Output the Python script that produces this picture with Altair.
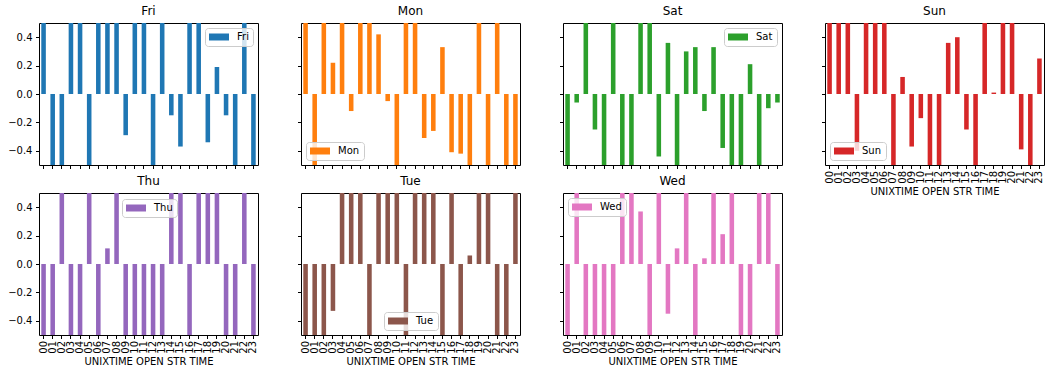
import altair as alt
import pandas as pd

hours = [f"{h:02d}" for h in range(24)]
days = ["Fri", "Mon", "Sat", "Sun", "Thu", "Tue", "Wed"]
colors = ["#1f77b4", "#ff7f0e", "#2ca02c", "#d62728", "#9467bd", "#8c564b", "#e377c2"]

# values beyond +/-0.5 are clipped in the reference; shown as +/-1
fri = [1, -1, -1, 1, 1, -1, 1, 1, 1, -0.29, 1, 1, -1, 1, -0.15, -0.37, 1, 1, -0.34, 0.19, -0.15, -1, 1, -1]
mon = [1, -1, 1, 0.22, 1, -0.12, 1, 1, 0.42, -0.05, -1, 1, 1, -0.31, -0.26, 0.33, -0.41, -0.42, -1, 1, -1, 1, -1, -1]
sat = [-1, -0.06, 1, -0.25, -1, 1, -1, -1, 1, 1, -0.44, 0.36, -1, 0.30, 0.33, -0.12, 0.33, -0.38, -1, -1, 0.21, -1, -0.10, -0.06]
sun = [1, 1, 1, -0.40, 1, 1, 1, -1, 0.12, -0.37, -0.17, -1, -1, 0.36, 0.40, -0.25, -1, 1, 0.01, 1, 1, -0.39, -1, 0.25]
thu = [-1, -1, 1, -1, -1, 1, -1, 0.11, 1, -1, -1, -1, -1, -1, 1, 1, -1, 1, 1, 1, -1, -1, 1, -1]
tue = [-1, -1, -1, -0.33, 1, 1, 1, -1, 1, 1, 1, -1, 1, 1, 1, -1, 1, -1, 0.06, 1, 1, -1, -1, 1]
wed = [-1, 1, -1, -1, -1, -1, 1, 1, 0.37, -1, 1, -0.35, 0.11, 1, -1, 0.04, 1, 0.21, 1, -1, -1, 1, 1, -1]
series = [fri, mon, sat, sun, thu, tue, wed]

W, H = 219, 142
FONT = "DejaVu Sans"
SYMBOL = "M-2,-0.7L2,-0.7L2,0.7L-2,0.7Z"

# legend placement per panel (matplotlib 'best')
legend_pos = {
    "Fri": dict(orient="top-right"),
    "Mon": dict(orient="bottom-left"),
    "Sat": dict(orient="top-right"),
    "Sun": dict(orient="bottom-left"),
    "Thu": dict(orient="none", legendX=83, legendY=6),
    "Tue": dict(orient="none", legendX=83, legendY=119),
    "Wed": dict(orient="top-left"),
}
show_x = {"Fri": False, "Mon": False, "Sat": False, "Sun": True, "Thu": True, "Tue": True, "Wed": True}
show_y = {"Fri": True, "Thu": True}


def panel(day, vals, color):
    df = pd.DataFrame({"hour": hours, "value": vals, "day": day})
    leg = alt.Legend(
        title=None, offset=5, padding=4, strokeColor="#cccccc", cornerRadius=3,
        fillColor="rgba(255,255,255,0.8)", labelFont=FONT, labelFontSize=10,
        labelColor="black", symbolType=SYMBOL, symbolSize=100,
        symbolStrokeWidth=0, symbolOpacity=1, symbolOffset=5, labelOffset=13,
        **legend_pos[day],
    )
    xs = show_x[day]
    ys = show_y.get(day, False)
    xaxis = alt.Axis(
        labels=xs, labelAngle=-90, labelFont=FONT, labelFontSize=10, labelColor="black",
        tickSize=3.5, tickColor="black", domain=False, grid=False, labelPadding=2,
        title="UNIXTIME OPEN STR TIME" if xs else None,
        titleFont=FONT, titleFontSize=10, titleFontWeight="normal", titleColor="black",
        titlePadding=3,
    )
    yaxis = alt.Axis(
        values=[-0.4, -0.2, 0.0, 0.2, 0.4], format=".1f", labels=ys,
        labelFont=FONT, labelFontSize=10, labelColor="black", labelPadding=3.5,
        tickSize=3.5, tickColor="black", domain=False, grid=False, title=None,
    )
    return (
        alt.Chart(df)
        .mark_bar(clip=True)
        .encode(
            x=alt.X("hour:O", sort=hours, scale=alt.Scale(paddingInner=0.5, paddingOuter=0.25), axis=xaxis),
            y=alt.Y("value:Q", scale=alt.Scale(domain=[-0.5, 0.5], nice=False), axis=yaxis),
            color=alt.Color("day:N", scale=alt.Scale(domain=[day], range=[color]), legend=leg),
        )
        .properties(
            width=W, height=H,
            title=alt.TitleParams(day, font=FONT, fontSize=12, fontWeight="normal",
                                  color="black", anchor="middle", offset=5),
        )
    )


panels = [panel(d, v, c) for d, v, c in zip(days, series, colors)]

chart = (
    alt.concat(*panels, columns=4, spacing={"row": 28, "column": 43}, bounds="flush")
    .resolve_scale(color="independent", x="independent", y="independent")
    .resolve_legend(color="independent")
    .properties(padding={"left": 7, "top": 4, "right": 5, "bottom": 5})
    .configure_view(stroke="black", strokeWidth=1)
)

chart.save("out.html", embed_options={"renderer": "svg", "actions": False})
